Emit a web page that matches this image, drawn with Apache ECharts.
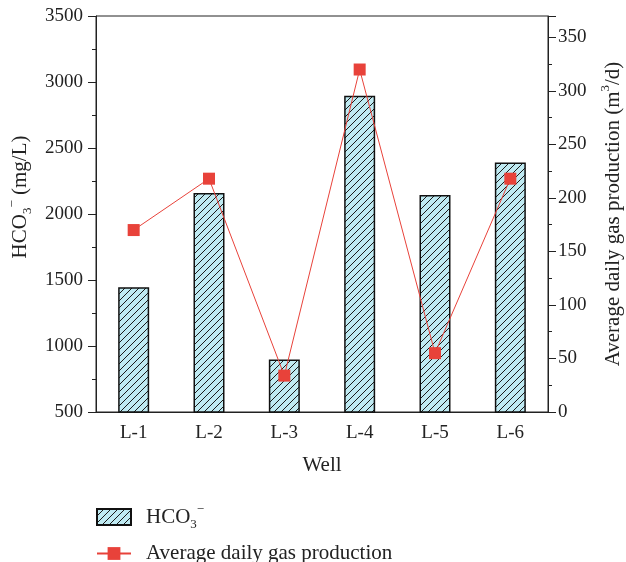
<!DOCTYPE html>
<html>
<head>
<meta charset="utf-8">
<script src="https://cdn.jsdelivr.net/npm/echarts@6/dist/echarts.min.js"></script>
<style>html,body{margin:0;padding:0;background:#fff}#c{width:626px;height:562px}</style>
</head>
<body>
<div id="c"></div>
<script>
const wells = ['L-1', 'L-2', 'L-3', 'L-4', 'L-5', 'L-6'];
const hco3 = [1445, 2160, 897, 2895, 2143, 2390];
const gasProduction = [170, 218, 34, 320, 55, 218];

const FONT = 'Liberation Serif';
const TICK_FS = 19;
const NAME_FS = 21;

function hatch() {
  const s = 7;
  const c = document.createElement('canvas');
  c.width = s; c.height = s;
  const ctx = c.getContext('2d');
  ctx.fillStyle = '#bfeaf2';
  ctx.fillRect(0, 0, s, s);
  ctx.strokeStyle = '#1a1a1a';
  ctx.lineWidth = 1;
  ctx.beginPath();
  ctx.moveTo(0, s); ctx.lineTo(s, 0);
  ctx.moveTo(-1, 1); ctx.lineTo(1, -1);
  ctx.moveTo(s - 1, s + 1); ctx.lineTo(s + 1, s - 1);
  ctx.stroke();
  return c;
}

const chart = echarts.init(document.getElementById('c'));
const baseRich = {
  a: { fontSize: NAME_FS, lineHeight: 28, fontFamily: FONT, color: '#222' },
  sub: { fontSize: 13, lineHeight: 15, verticalAlign: 'bottom', fontFamily: FONT, color: '#222' },
  sup: { fontSize: 13, lineHeight: 15, verticalAlign: 'top', fontFamily: FONT, color: '#222' }
};
const legendCommon = {
  orient: 'vertical', left: 96, padding: 0, itemWidth: 34, itemHeight: 16,
  textStyle: { fontSize: NAME_FS, fontFamily: FONT, color: '#222', padding: [0, 0, 0, 10], rich: baseRich },
  formatter: function (n) { return n === 'HCO3' ? '{a|HCO}{sub|3}{sup|−}' : '{a|' + n + '}'; }
};

chart.setOption({
  animation: false,
  grid: { left: 96, right: 78, top: 16, bottom: 150, outerBoundsMode: 'none', containLabel: false,
          show: true, borderColor: '#222', borderWidth: 1, backgroundColor: 'transparent' },
  legend: [
    Object.assign({}, legendCommon, { top: 503, data: [{ name: 'HCO3', icon: 'rect' }] }),
    Object.assign({}, legendCommon, { top: 543, data: ['Average daily gas production'] })
  ],
  xAxis: {
    type: 'category', data: wells,
    name: 'Well', nameLocation: 'middle', nameGap: 43,
    nameTextStyle: { fontSize: NAME_FS, fontFamily: FONT, color: '#222' },
    axisLine: { lineStyle: { color: '#222', width: 1 } },
    axisTick: { alignWithLabel: true, length: 6, lineStyle: { color: '#222' } },
    axisLabel: { fontSize: TICK_FS, fontFamily: FONT, color: '#222', margin: 12 }
  },
  yAxis: [{
    type: 'value', min: 500, max: 3500, interval: 500,
    name: '{a|HCO}{sub|3}{sup|−}{a| (mg/L)}', nameLocation: 'middle', nameGap: 60, nameRotate: 90,
    nameTextStyle: { rich: baseRich, padding: [0, 0, 0, 34] },
    axisLine: { show: true, lineStyle: { color: '#222' } },
    axisTick: { show: true, length: 8, lineStyle: { color: '#222' } },
    minorTick: { show: true, splitNumber: 2, length: 4, lineStyle: { color: '#222' } },
    splitLine: { show: false },
    axisLabel: { fontSize: TICK_FS, fontFamily: FONT, color: '#222', margin: 13, formatter: function (v) { return String(v); } }
  }, {
    type: 'value', min: 0, max: 370, interval: 50, position: 'right',
    name: '{a|Average daily gas production (m}{sup|3}{a|/d)}', nameLocation: 'middle', nameGap: 51, nameRotate: 90,
    nameTextStyle: { rich: baseRich },
    axisLine: { show: true, lineStyle: { color: '#222' } },
    axisTick: { show: true, length: 8, lineStyle: { color: '#222' } },
    minorTick: { show: true, splitNumber: 2, length: 4, lineStyle: { color: '#222' } },
    splitLine: { show: false },
    axisLabel: { fontSize: TICK_FS, fontFamily: FONT, color: '#222', margin: 10, showMaxLabel: false }
  }],
  series: [{
    name: 'HCO3', type: 'bar', data: hco3, barWidth: 31,
    itemStyle: { color: { image: hatch(), repeat: 'repeat' }, borderColor: '#111', borderWidth: 1.5 }
  }, {
    name: 'Average daily gas production', type: 'line', yAxisIndex: 1, data: gasProduction,
    symbol: 'rect', symbolSize: 12, z: 5,
    lineStyle: { color: '#e8423a', width: 1 },
    itemStyle: { color: '#e8423a' }
  }]
});
</script>
</body>
</html>
